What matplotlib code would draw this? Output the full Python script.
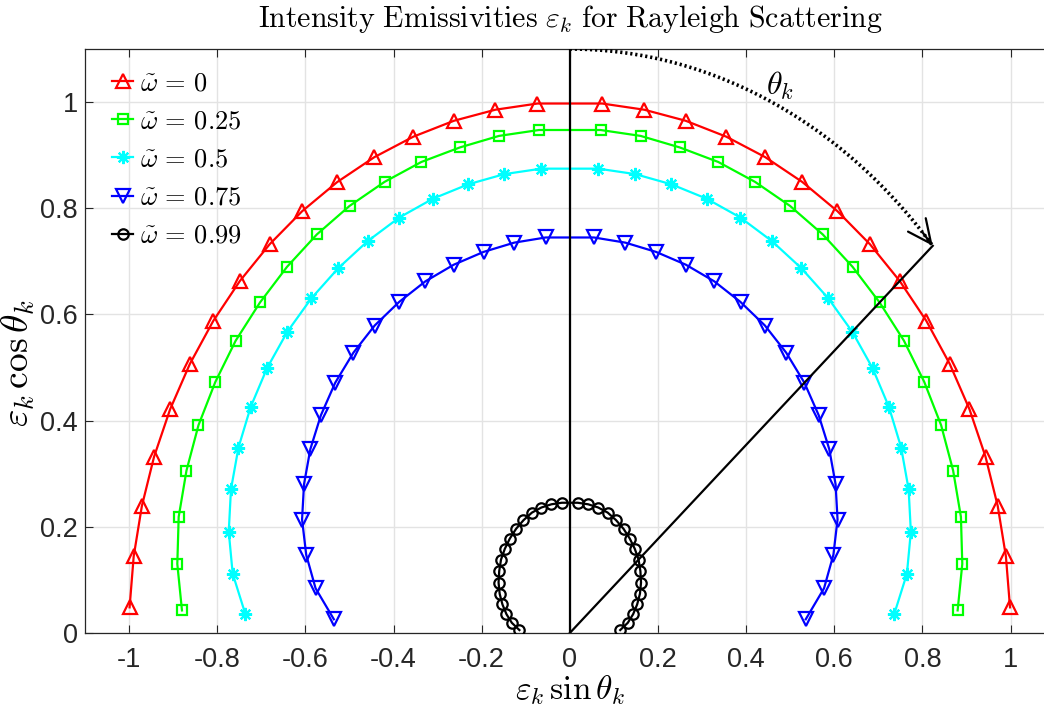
import numpy as np
import matplotlib
matplotlib.use("Agg")
import matplotlib.pyplot as plt

# ---------------- data ----------------
# direction cosines mu_k = cos(theta_k) of the quadrature points (upper half)
mu = [0.9973, 0.9856, 0.9648, 0.9349, 0.8963, 0.8494, 0.7945, 0.7322,
      0.6630, 0.5877, 0.5069, 0.4214, 0.3319, 0.2393, 0.1445, 0.0483]

omega_labels = ["0", "0.25", "0.5", "0.75", "0.99"]

eps_w000 = [1.000, 1.000, 1.000, 1.000, 1.000, 1.000, 1.000, 1.000,
            1.000, 1.000, 1.000, 1.000, 1.000, 1.000, 1.000, 1.000]
eps_w025 = [0.950, 0.950, 0.948, 0.949, 0.948, 0.947, 0.945, 0.942,
            0.939, 0.937, 0.933, 0.929, 0.922, 0.914, 0.900, 0.881]
eps_w050 = [0.877, 0.877, 0.876, 0.875, 0.873, 0.869, 0.865, 0.861,
            0.856, 0.849, 0.840, 0.829, 0.815, 0.797, 0.773, 0.737]
eps_w075 = [0.747, 0.746, 0.744, 0.742, 0.739, 0.734, 0.729, 0.721,
            0.711, 0.698, 0.683, 0.665, 0.644, 0.616, 0.583, 0.536]
eps_w099 = [0.246, 0.246, 0.245, 0.2425, 0.237, 0.231, 0.224, 0.2165,
            0.2085, 0.198, 0.1875, 0.1755, 0.162, 0.148, 0.133, 0.1145]

xtick_vals = [-1, -0.8, -0.6, -0.4, -0.2, 0, 0.2, 0.4, 0.6, 0.8, 1]
xtick_labels = ["-1", "-0.8", "-0.6", "-0.4", "-0.2", "0", "0.2", "0.4", "0.6", "0.8", "1"]
ytick_vals = [0, 0.2, 0.4, 0.6, 0.8, 1]
ytick_labels = ["0", "0.2", "0.4", "0.6", "0.8", "1"]

# ---------------- styling ----------------
plt.rcParams["mathtext.fontset"] = "cm"
TICKFONT = ["Liberation Sans Narrow", "Liberation Sans", "DejaVu Sans"]
AX_COLOR = "#262626"

styles = [
    dict(color=(1, 0, 0), marker="^", ms=10.5),
    dict(color=(0, 1, 0), marker="s", ms=7),
    dict(color=(0, 1, 1), marker=(8, 2, 0), ms=9.5),
    dict(color=(0, 0, 1), marker="v", ms=10),
    dict(color=(0, 0, 0), marker="o", ms=7.5),
]
series = [eps_w000, eps_w025, eps_w050, eps_w075, eps_w099]

fig = plt.figure(figsize=(10.44, 7.17), dpi=100)
ax = fig.add_axes([85 / 1044, 84 / 717, 969.6 / 1044, 584 / 717])

mu_a = np.array(mu)
sin_a = np.sqrt(1 - mu_a ** 2)
handles = []
for eps, st, lab in zip(series, styles, omega_labels):
    e = np.array(eps)
    x = np.concatenate([-(e * sin_a)[::-1], e * sin_a])
    y = np.concatenate([(e * mu_a)[::-1], e * mu_a])
    h, = ax.plot(x, y, color=st["color"], marker=st["marker"], ms=st["ms"],
                 mfc="none", mec=st["color"], mew=1.6, lw=1.6,
                 label=r"$\tilde{\omega}\,=\,%s$" % lab, zorder=3)
    handles.append(h)

# geometry annotation: vertical axis, radius to theta_k and the angle arc
R = 1.1
k_arrow = 8  # index of the quadrature direction used for the sketch
th_end = np.arccos(mu[k_arrow])
ax.plot([0, 0], [0, R], color="k", lw=1.6, zorder=4)
ax.plot([0, R * np.sin(th_end)], [0, R * np.cos(th_end)], color="k", lw=1.6, zorder=4)
phi = np.linspace(0, th_end, 200)
ax.plot(R * np.sin(phi), R * np.cos(phi), color="k", lw=2.6, ls=(0, (0.6, 0.8)),
        zorder=4)
phi0 = th_end - 0.03
ax.annotate("", xy=(R * np.sin(th_end), R * np.cos(th_end)),
            xytext=(R * np.sin(phi0), R * np.cos(phi0)),
            arrowprops=dict(arrowstyle="->,head_length=1.7,head_width=0.8",
                            mutation_scale=10, lw=1.6, color="k",
                            shrinkA=0, shrinkB=0), zorder=5)
ax.text(0.477, 1.03, r"$\theta_k$", fontsize=23, ha="center", va="center")

ax.set_xlim(-1.1, 1.1)
ax.set_ylim(0, 1.1)
ax.set_xticks(xtick_vals)
ax.set_xticklabels(xtick_labels)
ax.set_yticks(ytick_vals)
ax.set_yticklabels(ytick_labels)
for lbl in ax.get_xticklabels() + ax.get_yticklabels():
    lbl.set_family(TICKFONT)
    lbl.set_fontsize(19.5)
    lbl.set_color(AX_COLOR)
ax.tick_params(axis="both", direction="in", length=6, width=0.8, color=AX_COLOR,
               top=True, right=True)
ax.tick_params(axis="x", pad=10)
ax.tick_params(axis="y", pad=5)
for sp in ax.spines.values():
    sp.set_color(AX_COLOR)
    sp.set_linewidth(0.9)
ax.grid(True, color="#e3e3e3", lw=1.0, zorder=0)
ax.set_axisbelow(True)

ax.set_xlabel(r"$\varepsilon_k\,\sin\theta_k$", fontsize=24, labelpad=0)
ax.set_ylabel(r"$\varepsilon_k\,\cos\theta_k$", fontsize=27)
ax.yaxis.set_label_coords(-0.049, 0.462)
ax.set_title(r"$\mathrm{Intensity\ Emissivities}\ \varepsilon_k\ \mathrm{for\ Rayleigh\ Scattering}$",
             fontsize=21.5, pad=16)

leg = ax.legend(handles=handles, loc="upper left", bbox_to_anchor=(0.009, 0.995),
                frameon=False, fontsize=19,
                handlelength=0.8, handletextpad=0.25, labelspacing=0.46,
                borderaxespad=0.3, borderpad=0.4)

fig.savefig("out.png", dpi=100)
